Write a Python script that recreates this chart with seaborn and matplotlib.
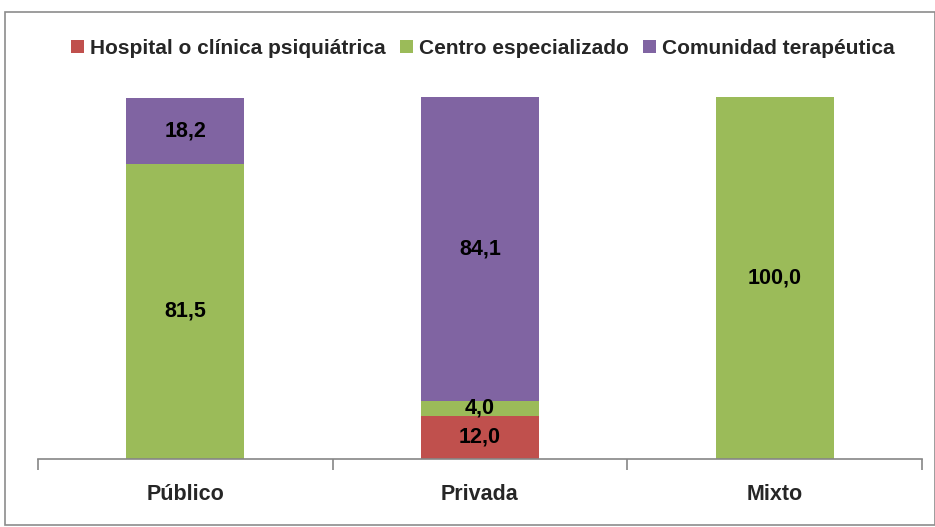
import numpy as np
import pandas as pd
import matplotlib
matplotlib.use("Agg")
import matplotlib.pyplot as plt
from matplotlib.patches import Rectangle, Patch
import seaborn as sns

categories = ["Público", "Privada", "Mixto"]
series_names = ["Hospital o clínica psiquiátrica", "Centro especializado", "Comunidad terapéutica"]
hospital = [0.0, 12.0, 0.0]
centro = [81.5, 4.0, 100.0]
comunidad = [18.2, 84.1, 0.0]
colors = ["#C0504D", "#9BBB59", "#8064A2"]

sns.set_theme(style="white")
plt.rcParams["font.family"] = ["Liberation Sans", "DejaVu Sans"]

df = pd.DataFrame({"tipo": categories, series_names[0]: hospital,
                   series_names[1]: centro, series_names[2]: comunidad})

fig = plt.figure(figsize=(9.35, 5.27), dpi=100, facecolor="white")
ax = fig.add_axes([38 / 935, 1 - 459 / 527, (922 - 38) / 935, (459 - 97) / 527])

bottom = np.zeros(len(categories))
for name, col in zip(series_names, colors):
    vals = df[name].to_numpy()
    sns.barplot(data=df, x="tipo", y=name, color=col, width=0.4, bottom=bottom,
                saturation=1, ax=ax, linewidth=0, clip_on=False)
    for i, v in enumerate(vals):
        if v > 0:
            ax.text(i, bottom[i] + v / 2, f"{v:.1f}".replace(".", ","), ha="center", va="center",
                    fontsize=15.5, fontweight="bold", color="black")
    bottom = bottom + vals

ax.set_ylim(0, 100)
ax.set_xlim(-0.5, 2.5)
ax.set_ylabel("")
ax.set_xlabel("")
ax.set_yticks([])
for s in ["top", "right", "left"]:
    ax.spines[s].set_visible(False)
ax.spines["bottom"].set_color("#868686")
ax.spines["bottom"].set_linewidth(1.2)
ax.set_xticks([0, 1, 2])
ax.set_xticklabels(categories, fontsize=15.5, fontweight="bold")
ax.tick_params(axis="x", which="major", length=0, pad=18)
ax.set_xticks([-0.5, 0.5, 1.5, 2.5], minor=True)
ax.tick_params(axis="x", which="minor", length=8, color="#868686", width=1.2, bottom=True)

handles = [Patch(facecolor=c, edgecolor="none") for c in colors]
fig.legend(handles, series_names, loc="center", bbox_to_anchor=(483 / 935, 1 - 48 / 527),
           ncol=3, frameon=False, prop={"weight": "bold", "size": 15},
           handlelength=0.6, handleheight=0.6, handletextpad=0.3, columnspacing=0.7)

fig.patches.append(Rectangle((5 / 935, 0.003), 0.995, 1 - 12 / 527 - 0.003,
                             transform=fig.transFigure, fill=False, edgecolor="#8c8c8c",
                             linewidth=1.2))

fig.savefig("out.png", dpi=100, facecolor="white")
